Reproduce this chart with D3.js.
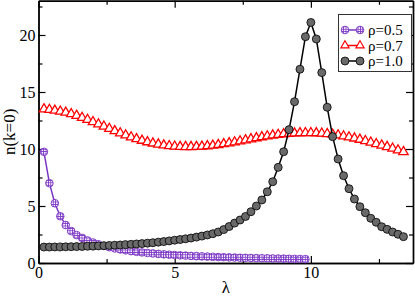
<!DOCTYPE html>
<html>
<head>
<meta charset="utf-8">
<script src="https://cdn.jsdelivr.net/npm/d3@7"></script>
<style>
  body { margin: 0; background: #fff; }
  text { font-family: "Liberation Serif", "DejaVu Serif", serif; }
</style>
</head>
<body>
<svg id="canvas"></svg>
<script>
const width = 415;
const height = 296;

// lambda grid (step 0.2) shared by the three curves
const lambdaA = d3.range(1, 50).map((i) => +(i * 0.2).toFixed(1));   // 0.2 .. 9.8
const lambdaB = d3.range(1, 68).map((i) => +(i * 0.2).toFixed(1));   // 0.2 .. 13.4

// rho = 0.5
const rho05 = [9.75, 7.0, 5.24, 4.1, 3.33, 2.8, 2.45, 2.2, 1.98, 1.8,
  1.64, 1.5, 1.38, 1.28, 1.19, 1.11, 1.04, 0.98, 0.93, 0.88,
  0.84, 0.8, 0.76, 0.73, 0.7, 0.67, 0.65, 0.62, 0.6, 0.58,
  0.56, 0.54, 0.52, 0.51, 0.49, 0.48, 0.46, 0.45, 0.44, 0.43,
  0.42, 0.41, 0.4, 0.39, 0.38, 0.37, 0.36, 0.35, 0.34];

// rho = 0.7
const rho07 = [13.5, 13.45, 13.38, 13.3, 13.2, 13.08, 12.93, 12.75, 12.57, 12.38,
  12.18, 11.98, 11.78, 11.58, 11.39, 11.21, 11.04, 10.88, 10.74, 10.61,
  10.5, 10.41, 10.33, 10.27, 10.23, 10.2, 10.19, 10.19, 10.2, 10.22,
  10.26, 10.31, 10.37, 10.44, 10.52, 10.6, 10.69, 10.78, 10.87, 10.96,
  11.05, 11.13, 11.2, 11.26, 11.31, 11.35, 11.38, 11.4, 11.41, 11.41,
  11.4, 11.37, 11.33, 11.28, 11.21, 11.13, 11.04, 10.94, 10.83, 10.71,
  10.58, 10.45, 10.32, 10.19, 10.05, 9.9, 9.75];

// rho = 1.0
const rho10 = [1.4, 1.4, 1.41, 1.41, 1.42, 1.43, 1.44, 1.45, 1.47, 1.48,
  1.5, 1.52, 1.54, 1.56, 1.58, 1.61, 1.64, 1.67, 1.7, 1.74,
  1.78, 1.83, 1.88, 1.94, 2.0, 2.06, 2.12, 2.19, 2.27, 2.36,
  2.46, 2.57, 2.72, 2.93, 3.2, 3.5, 3.77, 4.08, 4.5, 5.0,
  5.53, 6.25, 7.13, 8.39, 9.76, 11.7, 14.15, 17.0, 19.85, 21.1,
  19.65, 16.7, 13.66, 11.08, 9.12, 7.66, 6.52, 5.61, 4.94, 4.41,
  3.92, 3.57, 3.18, 2.95, 2.72, 2.52, 2.31];

const xMajor = [0, 5, 10];
const xMinor = [2.5, 7.5, 12.5];
const yMajor = [0, 5, 10, 15, 20];
const yMinor = [2.5, 7.5, 12.5, 17.5, 22.5];
const legendLabels = ['ρ=0.5', 'ρ=0.7', 'ρ=1.0'];

const purple = '#7b35c4';
const red = '#ff0000';

const svg = d3.select('#canvas').attr('width', width).attr('height', height);

const x = d3.scaleLinear().domain([0, 13.75]).range([38.5, 413]);
const y = d3.scaleLinear().domain([0, 23]).range([263, 0.8]);

// hatch pattern for the rho=0.5 circles
const pat = svg.append('defs').append('pattern')
  .attr('id', 'hatch')
  .attr('patternUnits', 'userSpaceOnUse')
  .attr('width', 2.4).attr('height', 2.4);
pat.append('rect').attr('width', 2.4).attr('height', 2.4).attr('fill', '#fff');
pat.append('path').attr('d', 'M0,0.4H2.4M0.4,0V2.4')
  .attr('stroke', purple).attr('stroke-width', 0.9);

// axes, ticks pointing inward on all four sides
function styleAxis(g) {
  g.selectAll('path.domain').attr('stroke', '#000').attr('stroke-width', 1.4);
  g.selectAll('.tick line').attr('stroke', '#000').attr('stroke-width', 1.2);
  g.selectAll('text').attr('font-size', 16).attr('fill', '#000')
    .style('font-family', '"Liberation Serif", serif');
}

svg.append('g').attr('transform', 'translate(0,263)')
  .call(d3.axisBottom(x).tickValues(xMajor).tickSize(-7).tickSizeOuter(0).tickPadding(4))
  .call(styleAxis);
svg.append('g').attr('transform', 'translate(0,263)')
  .call(d3.axisBottom(x).tickValues(xMinor).tickSize(-4).tickSizeOuter(0).tickFormat(''))
  .call(styleAxis);
svg.append('g').attr('transform', 'translate(0,0.8)')
  .call(d3.axisTop(x).tickValues(xMajor).tickSize(-7).tickSizeOuter(0).tickFormat(''))
  .call(styleAxis);
svg.append('g').attr('transform', 'translate(0,0.8)')
  .call(d3.axisTop(x).tickValues(xMinor).tickSize(-4).tickSizeOuter(0).tickFormat(''))
  .call(styleAxis);

svg.append('g').attr('transform', 'translate(38.5,0)')
  .call(d3.axisLeft(y).tickValues(yMajor).tickSize(-7).tickSizeOuter(0).tickPadding(3))
  .call(styleAxis);
svg.append('g').attr('transform', 'translate(38.5,0)')
  .call(d3.axisLeft(y).tickValues(yMinor).tickSize(-4).tickSizeOuter(0).tickFormat(''))
  .call(styleAxis);
svg.append('g').attr('transform', 'translate(413,0)')
  .call(d3.axisRight(y).tickValues(yMajor).tickSize(-7).tickSizeOuter(0).tickFormat(''))
  .call(styleAxis);
svg.append('g').attr('transform', 'translate(413,0)')
  .call(d3.axisRight(y).tickValues(yMinor).tickSize(-4).tickSizeOuter(0).tickFormat(''))
  .call(styleAxis);

// axis titles
svg.append('text')
  .attr('transform', `translate(15,${y(11.5)}) rotate(-90)`)
  .attr('text-anchor', 'middle')
  .attr('font-size', 17)
  .text('n(k=0)');
svg.append('text')
  .attr('x', (x.range()[0] + x.range()[1]) / 2)
  .attr('y', 293)
  .attr('text-anchor', 'middle')
  .attr('font-size', 17)
  .text('λ');

const line = d3.line().x((d) => x(d[0])).y((d) => y(d[1]));
const tri = d3.symbol(d3.symbolTriangle).size(38);

const dataA = lambdaA.map((l, i) => [l, rho05[i]]);
const dataB = lambdaB.map((l, i) => [l, rho07[i]]);
const dataC = lambdaB.map((l, i) => [l, rho10[i]]);

// rho = 0.5
svg.append('path').datum(dataA).attr('d', line)
  .attr('fill', 'none').attr('stroke', purple).attr('stroke-width', 1.5);
svg.append('g').selectAll('circle').data(dataA).enter().append('circle')
  .attr('cx', (d) => x(d[0])).attr('cy', (d) => y(d[1])).attr('r', 3.8)
  .attr('fill', 'url(#hatch)').attr('stroke', purple).attr('stroke-width', 0.9);

// rho = 0.7
svg.append('path').datum(dataB).attr('d', line)
  .attr('fill', 'none').attr('stroke', red).attr('stroke-width', 1.2);
svg.append('g').selectAll('path').data(dataB).enter().append('path')
  .attr('d', tri)
  .attr('transform', (d) => `translate(${x(d[0])},${y(d[1])})`)
  .attr('fill', '#fff').attr('stroke', red).attr('stroke-width', 1.3);

// rho = 1.0
svg.append('path').datum(dataC).attr('d', line)
  .attr('fill', 'none').attr('stroke', '#000').attr('stroke-width', 1.5);
svg.append('g').selectAll('circle').data(dataC).enter().append('circle')
  .attr('cx', (d) => x(d[0])).attr('cy', (d) => y(d[1])).attr('r', 4)
  .attr('fill', '#696969').attr('stroke', '#000').attr('stroke-width', 0.8);

// legend
const lg = svg.append('g');
lg.append('rect').attr('x', 338.5).attr('y', 14.5).attr('width', 73).attr('height', 57)
  .attr('fill', '#fff').attr('stroke', '#333').attr('stroke-width', 1);
const rowY = [30, 45.5, 61];
legendLabels.forEach((lab, i) => {
  const col = [purple, red, '#000'][i];
  lg.append('line').attr('x1', 345).attr('x2', 360).attr('y1', rowY[i]).attr('y2', rowY[i])
    .attr('stroke', col).attr('stroke-width', 1.5);
  [345, 360].forEach((cx) => {
    if (i === 0) {
      lg.append('circle').attr('cx', cx).attr('cy', rowY[i]).attr('r', 3.8)
        .attr('fill', 'url(#hatch)').attr('stroke', purple).attr('stroke-width', 0.9);
    } else if (i === 1) {
      lg.append('path').attr('d', d3.symbol(d3.symbolTriangle).size(30)())
        .attr('transform', `translate(${cx},${rowY[i]})`)
        .attr('fill', '#fff').attr('stroke', red).attr('stroke-width', 1.1);
    } else {
      lg.append('circle').attr('cx', cx).attr('cy', rowY[i]).attr('r', 4)
        .attr('fill', '#696969').attr('stroke', '#000').attr('stroke-width', 0.8);
    }
  });
  lg.append('text').attr('x', 368).attr('y', rowY[i]).attr('dy', '0.35em')
    .attr('font-size', 15).text(lab);
});
</script>
</body>
</html>
